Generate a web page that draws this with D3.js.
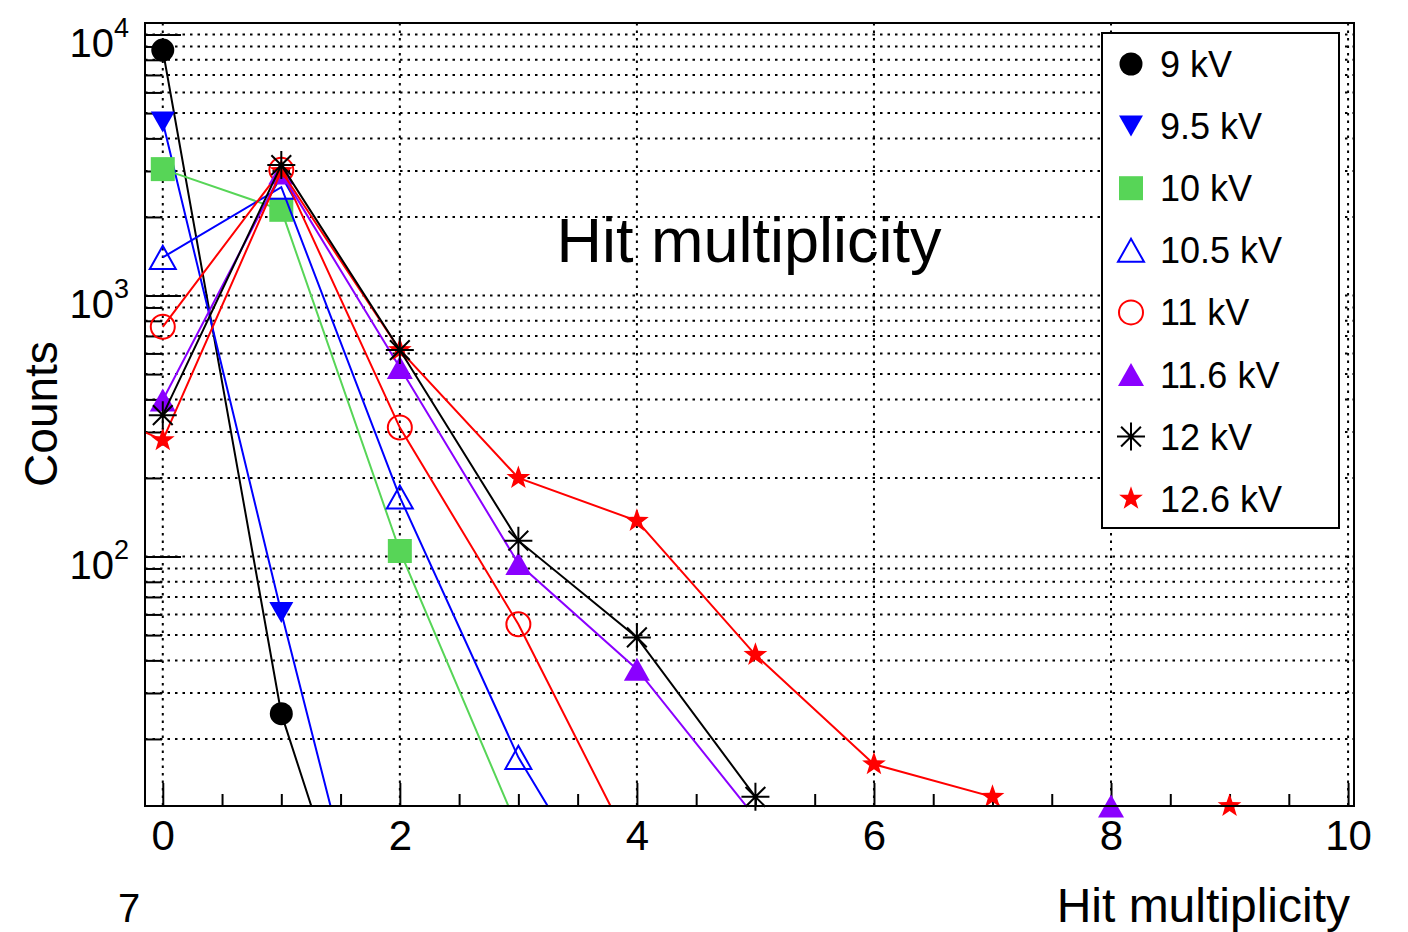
<!DOCTYPE html>
<html>
<head>
<meta charset="utf-8">
<script src="https://cdn.jsdelivr.net/npm/d3@7"></script>
<style>
  body { margin: 0; background: #fff; }
  text { font-family: "Liberation Sans", Arial, Helvetica, sans-serif; fill: #000; }
</style>
</head>
<body>
<div id="chart"></div>
<script>
// counts per hit multiplicity for each HV setting
const labels = ["9 kV", "9.5 kV", "10 kV", "10.5 kV", "11 kV", "11.6 kV", "12 kV", "12.6 kV"];
const colors = ["#000000", "#0000ff", "#57d557", "#0000ff", "#ff0000", "#8a00ff", "#000000", "#ff0000"];
const markers = ["circle", "triangleDown", "square", "triangleOpen", "circleOpen", "triangle", "asterisk", "star"];
const firstHit = [0, 0, 0, 0, 0, 0, 0, -1];
const counts9 = [8720, 25, 1];
const counts95 = [4620, 61, 1];
const counts10 = [3050, 2130, 105, 9];
const counts105 = [1400, 2600, 169, 17, 3];
const counts11 = [759, 3030, 312, 55, 7];
const counts116 = [398, 2950, 530, 94, 37, 10, 3, 1, 0];
const counts12 = [348, 3160, 618, 115, 49, 12];
const counts126 = [446, 279, 3000, 618, 200, 137, 42, 16, 12, 3, 0];
const xTicks = [0, 2, 4, 6, 8, 10];
const yTicks = [100, 1000, 10000];
// the 12 kV asterisks sit on top of the 12.6 kV stars
const drawOrder = [0, 1, 2, 3, 4, 5, 7, 6];

const allCounts = [counts9, counts95, counts10, counts105, counts11, counts116, counts12, counts126];
const series = labels.map((label, i) => ({
  label,
  color: colors[i],
  marker: markers[i],
  values: allCounts[i].map((c, j) => ({ h: firstHit[i] + j, c })),
}));

const W = 1408, H = 932;
const frame = { left: 145, top: 23, right: 1354, bottom: 806 };

const svg = d3.select("#chart").append("svg").attr("width", W).attr("height", H);

const x = d3.scaleLinear().domain([-0.15, 10.05]).range([frame.left, frame.right]);
const y = d3.scaleLog().domain([11.07, 11070]).range([frame.bottom, frame.top]);
// zero counts are drawn on the frame bottom (like ROOT does on log axes)
const yPos = (c) => (c > 0 ? y(c) : frame.bottom);

// minor log ticks 2..9 x decade inside the domain
const yMinor = [];
[10, 100, 1000, 10000].forEach((d) => {
  for (let k = 2; k <= 9; k++) {
    const v = d * k;
    if (v >= y.domain()[0] && v <= y.domain()[1]) yMinor.push(v);
  }
});
const xMinor = d3.range(0, 10.01, 0.5).filter((v) => v % 2 !== 0);

// grid (dotted)
const grid = svg.append("g").attr("stroke", "#000").attr("stroke-width", 2).attr("stroke-dasharray", "2.5,5");
grid.selectAll(".gy").data(yTicks.concat(yMinor)).enter().append("line")
  .attr("x1", frame.left).attr("x2", frame.right)
  .attr("y1", (d) => y(d)).attr("y2", (d) => y(d));
grid.selectAll(".gx").data(xTicks).enter().append("line")
  .attr("y1", frame.top).attr("y2", frame.bottom)
  .attr("x1", (d) => x(d)).attr("x2", (d) => x(d));

// x axis: major + minor ticks pointing up into the frame
const xAxis = svg.append("g").attr("transform", `translate(0,${frame.bottom})`)
  .call(d3.axisBottom(x).tickValues(xTicks).tickSize(-23).tickPadding(14).tickFormat(d3.format("d")));
svg.append("g").attr("transform", `translate(0,${frame.bottom})`)
  .call(d3.axisBottom(x).tickValues(xMinor).tickSize(-12).tickFormat(""));

// y axis: major + minor ticks pointing right into the frame
svg.append("g").attr("transform", `translate(${frame.left},0)`)
  .call(d3.axisLeft(y).tickValues(yTicks).tickSize(-36).tickFormat(""));
svg.append("g").attr("transform", `translate(${frame.left},0)`)
  .call(d3.axisLeft(y).tickValues(yMinor).tickSize(-17).tickFormat(""));

svg.selectAll(".domain").remove();
svg.selectAll(".tick line").attr("stroke", "#000").attr("stroke-width", 2);
xAxis.selectAll(".tick text").style("font-size", "42px").attr("fill", "#000")
  .attr("font-family", '"Liberation Sans", Arial, Helvetica, sans-serif');

// y tick labels as 10^n
yTicks.forEach((v) => {
  const t = svg.append("text").attr("x", 129).attr("y", y(v) + 22).attr("text-anchor", "end");
  t.append("tspan").style("font-size", "40px").text("10");
  t.append("tspan").style("font-size", "27px").attr("dy", -20).text(Math.round(Math.log10(v)));
});

// clip for lines
svg.append("clipPath").attr("id", "frameClip").append("rect")
  .attr("x", frame.left).attr("y", frame.top)
  .attr("width", frame.right - frame.left).attr("height", frame.bottom - frame.top);

function markerPath(type) {
  const p = d3.path();
  if (type === "circle" || type === "circleOpen") {
    const r = type === "circle" ? 11.5 : 12;
    p.moveTo(r, 0); p.arc(0, 0, r, 0, 2 * Math.PI);
  } else if (type === "square") {
    p.rect(-12, -12, 24, 24);
  } else if (type === "triangle" || type === "triangleOpen") {
    const w = 13, h = 23;
    p.moveTo(-w, h / 2); p.lineTo(w, h / 2); p.lineTo(0, -h / 2); p.closePath();
  } else if (type === "triangleDown") {
    const w = 12, h = 21;
    p.moveTo(-w, -h / 2); p.lineTo(w, -h / 2); p.lineTo(0, h / 2); p.closePath();
  } else if (type === "asterisk") {
    const r = 14, d = r * Math.SQRT1_2;
    p.moveTo(-r, 0); p.lineTo(r, 0);
    p.moveTo(0, -r); p.lineTo(0, r);
    p.moveTo(-d, -d); p.lineTo(d, d);
    p.moveTo(-d, d); p.lineTo(d, -d);
  } else if (type === "star") {
    const R = 12.5, r0 = R * 0.4;
    for (let k = 0; k < 10; k++) {
      const a = -Math.PI / 2 + (k * Math.PI) / 5;
      const rr = k % 2 === 0 ? R : r0;
      if (k === 0) p.moveTo(rr * Math.cos(a), rr * Math.sin(a));
      else p.lineTo(rr * Math.cos(a), rr * Math.sin(a));
    }
    p.closePath();
  }
  return p.toString();
}

function styleMarker(sel, s) {
  const open = s.marker === "circleOpen" || s.marker === "triangleOpen" || s.marker === "asterisk";
  sel.attr("fill", open ? "none" : s.color)
    .attr("stroke", open ? s.color : "none")
    .attr("stroke-width", 2);
}

const line = d3.line().x((d) => x(d.h)).y((d) => yPos(d.c));

drawOrder.forEach((i) => {
  const s = series[i];
  svg.append("path")
    .datum(s.values)
    .attr("clip-path", "url(#frameClip)")
    .attr("fill", "none")
    .attr("stroke", s.color)
    .attr("stroke-width", 2)
    .attr("d", line);

  const visible = s.values.filter((d) =>
    d.h >= x.domain()[0] && d.h <= x.domain()[1] && (d.c === 0 || d.c >= y.domain()[0]));
  svg.append("g").selectAll("path")
    .data(visible)
    .enter()
    .append("path")
    .attr("transform", (d) => `translate(${x(d.h)},${yPos(d.c)})`)
    .attr("d", markerPath(s.marker))
    .call(styleMarker, s);
});

// frame
svg.append("rect")
  .attr("x", frame.left).attr("y", frame.top)
  .attr("width", frame.right - frame.left).attr("height", frame.bottom - frame.top)
  .attr("fill", "none").attr("stroke", "#000").attr("stroke-width", 2);

// legend
const legend = svg.append("g");
legend.append("rect")
  .attr("x", 1102).attr("y", 33).attr("width", 237).attr("height", 495)
  .attr("fill", "#fff").attr("stroke", "#000").attr("stroke-width", 2);
series.forEach((s, i) => {
  const ly = 64 + i * 62.1;
  legend.append("path")
    .attr("transform", `translate(1131,${ly})`)
    .attr("d", markerPath(s.marker))
    .call(styleMarker, s);
  legend.append("text")
    .attr("x", 1160).attr("y", ly + 13)
    .style("font-size", "36px")
    .text(s.label);
});

// titles
svg.append("text")
  .attr("x", 749).attr("y", 262)
  .attr("text-anchor", "middle")
  .style("font-size", "63px")
  .text("Hit multiplicity");

svg.append("text")
  .attr("x", 1350).attr("y", 922)
  .attr("text-anchor", "end")
  .style("font-size", "48px")
  .text("Hit multiplicity");

svg.append("text")
  .attr("transform", "translate(57,414) rotate(-90)")
  .attr("text-anchor", "middle")
  .style("font-size", "46px")
  .text("Counts");

svg.append("text")
  .attr("x", 118).attr("y", 922)
  .style("font-size", "40px")
  .text("7");
</script>
</body>
</html>
